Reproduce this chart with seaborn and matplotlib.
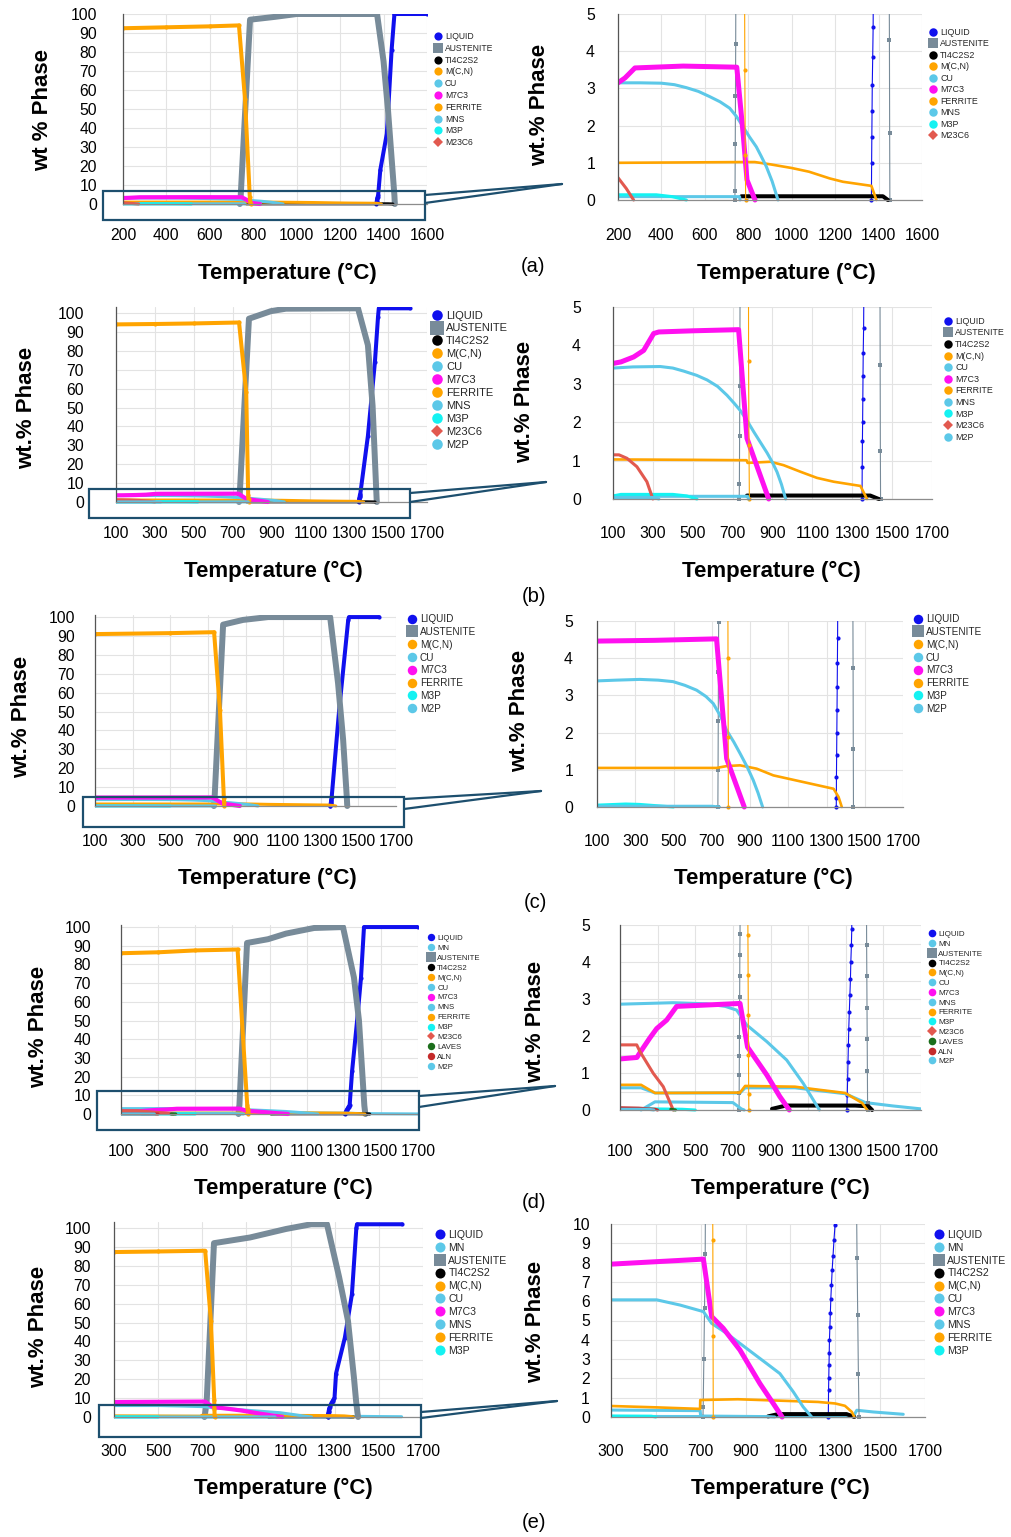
import numpy as np
import pandas as pd
import matplotlib
matplotlib.use("Agg")
import matplotlib.pyplot as plt
import seaborn as sns
from matplotlib.lines import Line2D
from matplotlib.patches import Rectangle
from matplotlib.transforms import Bbox, TransformedBbox
from matplotlib.ticker import MultipleLocator

# ---------------- phase fractions (temperature degC, wt.%) ----------------
# (a)
a_liquid = [(1367, 0), (1368, 1.0), (1369, 1.7), (1370, 2.4), (1371, 3.1), (1373, 3.85), (1375, 4.65),
            (1385, 18), (1415, 37), (1437, 81), (1450, 100), (1600, 100)]
a_austenite = [(738, 0), (739, 0.25), (740, 1.5), (741, 2.8), (742, 4.2), (785, 97), (900, 98.5),
               (1000, 100), (1370, 100), (1400, 75), (1420, 50), (1450, 4.3), (1451, 1.8), (1452, 0)]
a_ti4c2s2 = [(768, 0.1), (1420, 0.1), (1443, 0)]
a_mcn = [(200, 1.0), (500, 1.01), (780, 1.02), (830, 1.02), (900, 0.96), (1000, 0.86), (1080, 0.76),
         (1175, 0.58), (1236, 0.49), (1367, 0.38), (1390, 0)]
a_cu = [(200, 3.15), (300, 3.15), (400, 3.14), (460, 3.1), (515, 3.02), (570, 2.92), (622, 2.78),
        (670, 2.64), (714, 2.47), (745, 2.25), (776, 1.97), (805, 1.7), (837, 1.43), (860, 1.17),
        (883, 0.9), (910, 0.5), (937, 0)]
a_m7c3 = [(200, 3.15), (232, 3.28), (278, 3.55), (500, 3.6), (747, 3.57), (776, 1.8), (794, 0.54), (831, 0)]
a_ferrite = [(200, 92.5), (400, 93), (600, 93.5), (734, 94), (762, 55), (784, 3.5), (786, 1.2), (788, 0)]
a_mns = [(200, 0.09), (760, 0.09), (762, 0)]
a_m3p = [(200, 0.14), (376, 0.14), (450, 0.09), (515, 0)]
a_m23c6 = [(200, 0.6), (238, 0.31), (272, 0)]

# (b)
b_liquid = [(1349, 0), (1350, 0.84), (1351, 1.5), (1352, 2.0), (1353, 2.6), (1354, 3.2), (1355, 3.8),
            (1357, 4.45), (1396, 35), (1432, 74), (1448, 98), (1452, 102.5), (1612, 102.5)]
b_austenite = [(733, 0), (734, 0.4), (735, 1.65), (736, 2.95), (784, 97), (897, 101), (974, 102.3),
               (1345, 102.5), (1396, 83), (1420, 51), (1440, 3.5), (1441, 1.26), (1442, 0)]
b_ti4c2s2 = [(772, 0.09), (1390, 0.09), (1433, 0)]
b_mcn = [(100, 1.03), (500, 1.02), (770, 1.01), (775, 0.94), (890, 0.97), (956, 0.88), (1040, 0.71),
         (1123, 0.55), (1207, 0.45), (1341, 0.34), (1374, 0)]
b_cu = [(100, 3.41), (200, 3.44), (337, 3.45), (400, 3.41), (455, 3.33), (520, 3.22), (572, 3.1),
        (625, 2.93), (672, 2.7), (710, 2.48), (739, 2.3), (775, 2.02), (806, 1.75), (840, 1.47),
        (873, 1.2), (900, 0.95), (923, 0.7), (945, 0.38), (966, 0)]
b_m7c3 = [(100, 3.53), (140, 3.57), (204, 3.7), (254, 3.87), (304, 4.31), (330, 4.35), (500, 4.38),
          (730, 4.41), (772, 1.58), (881, 0)]
b_ferrite = [(100, 94), (300, 94.2), (500, 94.5), (733, 95), (770, 58), (780, 3.6), (782, 1.4), (784, 0)]
b_mns = [(100, 0.07), (775, 0.07), (780, 0)]
b_m3p = [(100, 0.08), (140, 0.12), (400, 0.12), (470, 0.08), (521, 0)]
b_m23c6 = [(100, 1.15), (130, 1.15), (170, 1.06), (220, 0.84), (270, 0.45), (300, 0)]
b_m2p = [(100, 0.04), (300, 0.04), (330, 0)]

# (c)
c_liquid = [(1351, 0), (1351.5, 0.24), (1352, 0.81), (1353, 1.39), (1354, 1.98), (1355, 2.6), (1356, 3.23),
            (1357, 3.88), (1358, 4.55), (1398, 51), (1446, 98.5), (1450, 100), (1610, 100)]
c_austenite = [(732, 0), (733, 1.0), (734, 2.32), (735, 3.64), (736, 4.96), (781, 96), (887, 98.5),
               (1020, 100), (1350, 100), (1392, 65), (1419, 35), (1439, 3.74), (1440, 1.55), (1441, 0)]
c_mcn = [(100, 1.05), (400, 1.05), (725, 1.05), (778, 1.1), (848, 1.12), (935, 1.03), (1022, 0.85),
         (1197, 0.65), (1337, 0.49), (1363, 0.27), (1380, 0)]
c_cu = [(100, 3.39), (200, 3.41), (324, 3.43), (420, 3.41), (498, 3.37), (560, 3.27), (621, 3.14),
        (670, 2.97), (708, 2.78), (745, 2.45), (778, 2.06), (815, 1.75), (848, 1.44), (885, 1.08),
        (917, 0.72), (942, 0.38), (966, 0)]
c_m7c3 = [(100, 4.46), (400, 4.48), (725, 4.52), (750, 3.0), (778, 1.3), (870, 0)]
c_ferrite = [(100, 91), (500, 91.5), (733, 92), (764, 51), (785, 4.0), (786, 1.87), (787, 0)]
c_m3p = [(100, 0.05), (250, 0.08), (320, 0.07), (500, 0)]
c_m2p = [(100, 0.02), (700, 0.02), (740, 0)]

# (d)
d_liquid = [(1306, 0), (1308, 0.4), (1310, 0.85), (1312, 1.3), (1314, 1.75), (1316, 2.2), (1319, 2.65),
            (1322, 3.1), (1325, 3.55), (1327, 4.0), (1330, 4.45), (1332, 4.9), (1345, 23), (1372, 50),
            (1393, 73), (1409, 100), (1700, 100)]
d_mn = [(100, 0.6), (212, 0.6), (286, 0.46), (738, 0.46), (765, 0.6), (1030, 0.6), (1297, 0.44),
        (1405, 0.2), (1550, 0.11), (1700, 0.03)]
d_austenite = [(733, 0), (733.5, 0.45), (734, 0.95), (734.5, 1.46), (735, 1.98), (736, 3.05), (736.5, 3.62),
               (737, 4.19), (738, 4.77), (779, 91.5), (892, 93.5), (989, 96.5), (1140, 99.5), (1296, 100),
               (1355, 73), (1382, 50), (1411, 4.46), (1412, 3.62), (1413, 2.77), (1414, 1.92),
               (1415, 1.05), (1416, 0.18), (1417, 0)]
d_ti4c2s2 = [(908, 0.03), (982, 0.12), (1350, 0.12), (1420, 0.1), (1440, 0)]
d_mcn = [(100, 0.68), (212, 0.68), (286, 0.46), (738, 0.47), (765, 0.65), (1030, 0.63), (1137, 0.56),
         (1297, 0.46), (1387, 0.19), (1414, 0)]
d_cu = [(100, 2.86), (383, 2.9), (561, 2.87), (660, 2.8), (720, 2.7), (773, 2.3), (880, 1.85),
        (986, 1.35), (1074, 0.72), (1160, 0)]
d_m7c3 = [(100, 1.38), (190, 1.42), (206, 1.55), (259, 1.95), (295, 2.2), (348, 2.43), (401, 2.8),
          (738, 2.88), (778, 1.7), (880, 0.95), (950, 0.36), (1000, 0)]
d_mns = [(212, 0), (286, 0.22), (700, 0.2), (745, 0.03), (760, 0)]
d_ferrite = [(100, 86), (300, 86.5), (500, 87.5), (728, 88), (780, 4.73), (781, 3.65), (782, 2.57),
             (783, 1.5), (784, 0.43), (785, 0)]
d_m3p = [(100, 0.04), (430, 0.02), (500, 0)]
d_m23c6 = [(100, 1.76), (189, 1.76), (206, 1.58), (277, 0.99), (330, 0.63), (383, 0)]
d_laves = [(370, 0.02), (395, 0)]
d_aln = [(100, 0.06), (200, 0.05), (286, 0.02), (300, 0)]
d_m2p = [(100, 0.02), (250, 0.02), (280, 0)]

# (e)
e_liquid = [(1268, 0), (1269, 0.17), (1270, 1.39), (1271, 2.03), (1272, 2.69), (1273, 3.33), (1274, 3.99),
            (1276, 4.68), (1278, 5.37), (1280, 6.1), (1283, 6.85), (1286, 7.6), (1290, 8.35), (1294, 9.15),
            (1299, 9.97), (1306, 23), (1346, 42), (1378, 65), (1398, 100), (1401, 102), (1605, 102)]
e_mn = [(300, 0.36), (697, 0.33), (700, 0.05), (1000, 0.02), (1380, 0.02), (1396, 0.35), (1470, 0.26),
        (1603, 0.14)]
e_austenite = [(710, 0), (711, 0.52), (714, 3.0), (717, 5.67), (720, 8.44), (753, 92), (916, 95),
               (1079, 99.5), (1193, 102), (1265, 102), (1320, 74), (1360, 51), (1387, 21), (1397, 8.23),
               (1400, 5.29), (1403, 2.25), (1406, 0)]
e_ti4c2s2 = [(1000, 0.03), (1045, 0.15), (1350, 0.15), (1375, 0.05), (1385, 0)]
e_mcn = [(300, 0.57), (500, 0.5), (697, 0.42), (698, 0.88), (866, 0.92), (1017, 0.86), (1223, 0.78),
         (1300, 0.7), (1343, 0.58), (1374, 0.26), (1385, 0)]
e_cu = [(300, 6.07), (504, 6.07), (608, 5.8), (712, 5.46), (749, 4.85), (816, 4.33), (905, 3.55),
        (994, 2.77), (1053, 2.25), (1113, 1.3), (1157, 0.52), (1195, 0)]
e_m7c3 = [(300, 7.92), (712, 8.18), (749, 5.2), (800, 4.6), (875, 3.47), (964, 1.73), (1024, 0.69), (1063, 0)]
e_mns = [(300, 0.03), (1000, 0.02), (1030, 0)]
e_ferrite = [(300, 87.3), (500, 87.6), (713, 88), (739, 51), (754, 9.15), (755, 4.21), (756, 0)]
e_m3p = [(300, 0.05), (480, 0.04), (500, 0)]

# phases per composition, in legend / drawing order
ROWS = {
    "a": [("LIQUID", a_liquid), ("AUSTENITE", a_austenite), ("TI4C2S2", a_ti4c2s2), ("M(C,N)", a_mcn),
          ("CU", a_cu), ("M7C3", a_m7c3), ("FERRITE", a_ferrite), ("MNS", a_mns), ("M3P", a_m3p),
          ("M23C6", a_m23c6)],
    "b": [("LIQUID", b_liquid), ("AUSTENITE", b_austenite), ("TI4C2S2", b_ti4c2s2), ("M(C,N)", b_mcn),
          ("CU", b_cu), ("M7C3", b_m7c3), ("FERRITE", b_ferrite), ("MNS", b_mns), ("M3P", b_m3p),
          ("M23C6", b_m23c6), ("M2P", b_m2p)],
    "c": [("LIQUID", c_liquid), ("AUSTENITE", c_austenite), ("M(C,N)", c_mcn), ("CU", c_cu),
          ("M7C3", c_m7c3), ("FERRITE", c_ferrite), ("M3P", c_m3p), ("M2P", c_m2p)],
    "d": [("LIQUID", d_liquid), ("MN", d_mn), ("AUSTENITE", d_austenite), ("TI4C2S2", d_ti4c2s2),
          ("M(C,N)", d_mcn), ("CU", d_cu), ("M7C3", d_m7c3), ("MNS", d_mns), ("FERRITE", d_ferrite),
          ("M3P", d_m3p), ("M23C6", d_m23c6), ("LAVES", d_laves), ("ALN", d_aln), ("M2P", d_m2p)],
    "e": [("LIQUID", e_liquid), ("MN", e_mn), ("AUSTENITE", e_austenite), ("TI4C2S2", e_ti4c2s2),
          ("M(C,N)", e_mcn), ("CU", e_cu), ("M7C3", e_m7c3), ("MNS", e_mns), ("FERRITE", e_ferrite),
          ("M3P", e_m3p)],
}

PHASE_COLOR = {
    "LIQUID": "#1010ee", "AUSTENITE": "#788b99", "TI4C2S2": "#000000", "M(C,N)": "#ffa400",
    "CU": "#5cc8e8", "M7C3": "#ff10f0", "FERRITE": "#ffa400", "MNS": "#5cc8e8", "M3P": "#14f2f2",
    "M23C6": "#e2594f", "M2P": "#5cc8e8", "MN": "#5cc8e8", "LAVES": "#1b6e1b", "ALN": "#c42a2a",
}
PHASE_MARKER = {name: "o" for name in PHASE_COLOR}
PHASE_MARKER["AUSTENITE"] = "s"
PHASE_MARKER["M23C6"] = "D"

# ---------------- layout (figure pixels) ----------------
W, H = 1012, 1537
LEFT_BOX = {"a": (123, 427, 14, 204), "b": (116, 427, 307, 502), "c": (95, 396, 615, 806),
            "d": (121, 418, 925, 1114), "e": (114, 423, 1222, 1417)}
LEFT_YMAX = {"a": 100, "b": 103.2, "c": 101.1, "d": 101.1, "e": 103.2}
RIGHT_BOX = {"a": (618, 922, 14, 200), "b": (613, 932, 307, 499), "c": (597, 903, 621, 807),
             "d": (620, 921, 925, 1110), "e": (611, 925, 1224, 1417)}
RIGHT_YMAX = {"a": 5, "b": 5, "c": 5, "d": 5, "e": 10}
XLIM = {"a": (200, 1600), "b": (100, 1700), "c": (100, 1700), "d": (100, 1700), "e": (300, 1700)}
XTICK_Y = {"a": 237, "b": 535, "c": 843, "d": 1153, "e": 1453}
YTICK_EDGE_L = {"a": 97, "b": 84, "c": 75, "d": 91, "e": 91}
YTICK_EDGE_R = {"a": 595, "b": 581, "c": 573, "d": 590, "e": 590}
XLABEL_L = {"a": (287, 273), "b": (273, 571), "c": (267, 878), "d": (283, 1188), "e": (283, 1488)}
XLABEL_R = {"a": (786, 273), "b": (771, 571), "c": (763, 878), "d": (780, 1188), "e": (780, 1488)}
YLABEL_L = {"a": (43, 110), "b": (27, 408), "c": (22, 717), "d": (39, 1027), "e": (39, 1327)}
YLABEL_R = {"a": (540, 105), "b": (525, 402), "c": (520, 711), "d": (536, 1022), "e": (536, 1322)}
LETTER = {"a": (533, 267), "b": (534, 597), "c": (535, 903), "d": (534, 1202), "e": (534, 1523)}
ZOOM_RECT = {"a": (103, 191, 425, 220), "b": (89, 489, 410, 518), "c": (83, 797, 404, 827),
             "d": (97, 1091, 419, 1130), "e": (99, 1405, 421, 1437)}
CALLOUT = {"a": ((425, 195), (425, 203), (562, 184)), "b": ((410, 493), (410, 502), (546, 482)),
           "c": ((404, 799), (404, 809), (541, 791)), "d": ((419, 1096), (419, 1107), (555, 1086)),
           "e": ((421, 1412), (421, 1418), (557, 1401))}
# legend: marker x, first-row y, row pitch (px), font size (pt)
LEGEND_L = {"a": (438, 37, 12.8, 6.2), "b": (437, 317, 15.8, 8.0), "c": (412, 620, 14.4, 7.2),
            "d": (431, 939, 11.5, 5.6), "e": (440, 1236, 15.1, 7.6)}
LEGEND_R = {"a": (933, 33, 12.8, 6.4), "b": (948, 322, 12.9, 6.4), "c": (918, 620, 14.4, 7.2),
            "d": (932, 935, 11.5, 5.8), "e": (939, 1236, 15.1, 7.6)}

sns.set_theme(style="white")
plt.rcParams["font.family"] = ["Liberation Sans", "DejaVu Sans"]
PX = 100 / 72.0
TICK_FS = 11.3
LABEL_FS = 16
FRAME = "#1d4f6e"

fig = plt.figure(figsize=(W / 100, H / 100), dpi=100)


def fx(px):
    return px / W


def fy(py):
    return 1 - py / H


def axes_px(box):
    x0, x1, yt, yb = box
    return fig.add_axes([fx(x0), fy(yb), (x1 - x0) / W, (yb - yt) / H])


def to_axes(ax, px, py):
    disp = fig.transFigure.transform((fx(px), fy(py)))
    return ax.transAxes.inverted().transform(disp)


def line_style(name, side):
    if side == "L":
        lw = {"AUSTENITE": 4.3, "FERRITE": 2.9, "LIQUID": 2.9, "M7C3": 3.0}.get(name, 2.2)
        marker = {"LIQUID": "o", "FERRITE": "o", "AUSTENITE": "s"}.get(name)
        return dict(linewidth=lw, marker=marker, markersize=3.0)
    if name in ("AUSTENITE", "FERRITE", "LIQUID"):
        return dict(linewidth=0.8, marker=PHASE_MARKER[name], markersize=3.4 if name == "AUSTENITE" else 3.0)
    lw = {"M7C3": 3.6, "TI4C2S2": 2.9, "M(C,N)": 1.9}.get(name, 2.2)
    return dict(linewidth=lw, marker=None)


def draw_panel(ax, row, side, ymax):
    frame = pd.concat([pd.DataFrame(pts, columns=["T", "wt"]).assign(phase=name)
                       for name, pts in ROWS[row]], ignore_index=True)
    for name, _ in ROWS[row]:
        sub = frame[frame["phase"] == name]
        sns.lineplot(data=sub, x="T", y="wt", ax=ax, color=PHASE_COLOR[name], estimator=None,
                     sort=False, legend=False, markeredgewidth=0, **line_style(name, side))
    # let curves lying on the zero line show their full width
    h_px = ax.get_position().height * H
    clip = TransformedBbox(Bbox([[0, -4.0 / h_px], [1, 1]]), ax.transAxes)
    for ln in ax.lines:
        ln.set_clip_path(None)
        ln.set_clip_box(clip)


def style_axes(ax, row, side, ymax):
    x0, x1 = XLIM[row]
    ax.set_xlim(x0, x1)
    ax.set_ylim(0, ymax)
    ax.set_xticks(np.arange(x0, x1 + 1, 200))
    ax.xaxis.set_minor_locator(MultipleLocator(100))
    if side == "L":
        ax.set_yticks(np.arange(0, 101, 10))
        ax.yaxis.set_minor_locator(MultipleLocator(2.5))
    else:
        ax.set_yticks(np.arange(0, ymax + 0.01, 1))
        ax.yaxis.set_minor_locator(MultipleLocator({"d": 0.5, "e": 0.5}.get(row, 0.25)))
    ax.grid(True, which="major", color="#e3e3e3", linewidth=0.8)
    if side == "R" and row == "d":
        ax.grid(True, which="minor", axis="y", color="#e3e3e3", linewidth=0.8)
    ax.set_axisbelow(True)
    for s in ("top", "right"):
        ax.spines[s].set_visible(False)
    ax.spines["left"].set_color("#555555")
    ax.spines["left"].set_linewidth(0.9)
    ax.spines["bottom"].set_color("#8c8c8c")
    ax.spines["bottom"].set_linewidth(0.9)
    box = LEFT_BOX[row] if side == "L" else RIGHT_BOX[row]
    xpad = (XTICK_Y[row] - box[3] - 8.6) / PX
    edge = YTICK_EDGE_L[row] if side == "L" else YTICK_EDGE_R[row]
    ypad = (box[0] - edge) / PX - 2.0
    ax.tick_params(axis="x", which="major", direction="in", length=3, pad=xpad,
                   labelsize=TICK_FS, color="#888888", labelcolor="black")
    ax.tick_params(axis="x", which="minor", direction="in", length=2, color="#888888")
    ax.tick_params(axis="y", which="major", direction="inout", length=4, pad=ypad,
                   labelsize=TICK_FS, color="#555555", labelcolor="black")
    ax.tick_params(axis="y", which="minor", direction="inout", length=3, color="#666666")
    ax.set_xlabel("Temperature (°C)", fontsize=LABEL_FS, fontweight="bold", color="black")
    ylab = "wt % Phase" if (side == "L" and row == "a") else "wt.% Phase"
    ax.set_ylabel(ylab, fontsize=LABEL_FS, fontweight="bold", color="black")
    xl = XLABEL_L[row] if side == "L" else XLABEL_R[row]
    yl = YLABEL_L[row] if side == "L" else YLABEL_R[row]
    ax.xaxis.set_label_coords(*to_axes(ax, *xl))
    ax.xaxis.label.set_va("center")
    ax.yaxis.set_label_coords(*to_axes(ax, *yl))
    ax.yaxis.label.set_va("center")


def add_legend(ax, row, spec):
    mx, y0, pitch, fs = spec
    fs_px = fs * PX
    handles, labels = [], []
    for name, _ in ROWS[row]:
        m = PHASE_MARKER[name]
        ms = fs * (1.2 if m == "s" else 0.8 if m == "D" else 0.95)
        c = PHASE_COLOR[name]
        handles.append(Line2D([], [], linestyle="none", marker=m, markersize=ms, color=c,
                              markeredgecolor=c, markeredgewidth=0))
        labels.append(name)
    ls = pitch / fs_px - 1.16
    left = mx - 0.5 * fs_px
    top = y0 - 0.58 * fs_px
    ax.legend(handles, labels, loc="upper left", bbox_to_anchor=(fx(left), fy(top)),
              bbox_transform=fig.transFigure, frameon=False, borderpad=0, borderaxespad=0,
              handlelength=1.0, handleheight=0.7, handletextpad=0.3, labelspacing=ls,
              prop={"size": fs, "family": ["Liberation Sans", "DejaVu Sans"]})


for row in ROWS:
    axl = axes_px(LEFT_BOX[row])
    draw_panel(axl, row, "L", LEFT_YMAX[row])
    style_axes(axl, row, "L", LEFT_YMAX[row])
    add_legend(axl, row, LEGEND_L[row])

    axr = axes_px(RIGHT_BOX[row])
    draw_panel(axr, row, "R", RIGHT_YMAX[row])
    style_axes(axr, row, "R", RIGHT_YMAX[row])
    add_legend(axr, row, LEGEND_R[row])

    # magnified window and the wedge pointing to the zoomed panel
    x0, y0, x1, y1 = ZOOM_RECT[row]
    fig.add_artist(Rectangle((fx(x0), fy(y1)), (x1 - x0) / W, (y1 - y0) / H, transform=fig.transFigure,
                             fill=False, edgecolor=FRAME, linewidth=1.6))
    p_up, p_lo, tip = CALLOUT[row]
    for p in (p_up, p_lo):
        fig.add_artist(Line2D([fx(p[0]), fx(tip[0])], [fy(p[1]), fy(tip[1])], transform=fig.transFigure,
                              color=FRAME, linewidth=1.6))

    lx, ly = LETTER[row]
    fig.text(fx(lx), fy(ly), f"({row})", ha="center", va="center", fontsize=14.5, color="black")

fig.savefig("out.png", dpi=100, facecolor="white")
